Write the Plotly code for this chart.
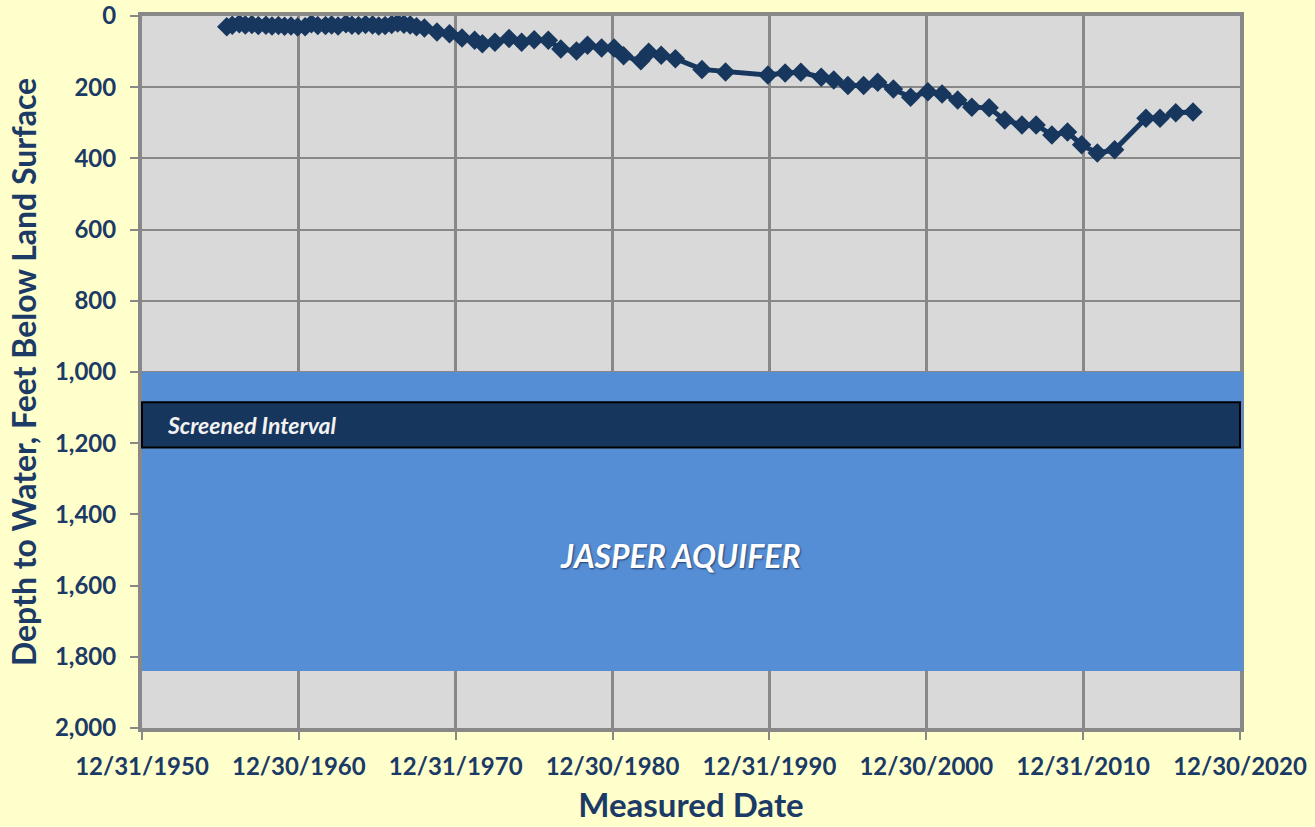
import plotly.graph_objects as go

# ---- data ----
dates = [
    "1956-05-26", "1956-10-01", "1957-03-15", "1957-08-01", "1958-01-01", "1958-06-01",
    "1958-11-25", "1959-04-15", "1959-09-12", "1960-02-01", "1960-07-01", "1960-12-01",
    "1961-05-26", "1961-10-20", "1962-03-15", "1962-09-12", "1963-02-01", "1963-07-01",
    "1964-01-01", "1964-05-20", "1964-10-20", "1965-04-01", "1965-09-12", "1966-02-01",
    "1966-07-01", "1966-12-01", "1967-04-20", "1967-09-12", "1968-02-05", "1968-07-01",
    "1969-01-01", "1969-10-20", "1970-08-08", "1971-05-26", "1972-03-15", "1972-09-12",
    "1973-07-01", "1974-05-26", "1975-03-15", "1976-01-01", "1976-11-25", "1977-09-12",
    "1978-09-12", "1979-05-26", "1980-04-20", "1981-02-05", "1981-09-12", "1982-10-20",
    "1983-04-20", "1984-02-05", "1985-01-01", "1986-09-12", "1988-03-15", "1990-11-25",
    "1992-01-01", "1993-01-01", "1994-04-20", "1995-02-05", "1996-01-01", "1997-01-01",
    "1997-11-25", "1998-11-25", "2000-01-01", "2001-02-05", "2002-01-01", "2003-01-01",
    "2003-11-25", "2005-01-01", "2006-01-01", "2007-02-05", "2008-01-01", "2009-01-01",
    "2010-01-01", "2010-11-25", "2011-11-25", "2013-01-01", "2015-01-01", "2015-11-25",
    "2016-11-25", "2018-01-01",
]
depth_ft = [
    30, 26, 22, 25, 24, 27,
    26, 28, 27, 29, 28, 31,
    30, 22, 27, 27, 25, 28,
    22, 26, 27, 24, 25, 28,
    27, 24, 20, 23, 25, 30,
    34, 45, 50, 62, 68, 78,
    74, 63, 74, 67, 68, 93,
    98, 82, 90, 90, 112, 126,
    102, 110, 120, 150, 157, 166,
    160, 158, 172, 180, 195, 195,
    186, 205, 228, 213, 219, 236,
    256, 258, 292, 306, 306, 334,
    326, 362, 385, 376, 287, 287,
    272, 270,
]

x_tick_dates = ["1950-12-31", "1960-12-30", "1970-12-31", "1980-12-30",
                "1990-12-31", "2000-12-30", "2010-12-31", "2020-12-30"]
x_tick_text = ["12/31/1950", "12/30/1960", "12/31/1970", "12/30/1980",
               "12/31/1990", "12/30/2000", "12/31/2010", "12/30/2020"]
y_ticks = [0, 200, 400, 600, 800, 1000, 1200, 1400, 1600, 1800, 2000]

aquifer_top, aquifer_bottom = 1000, 1840
screen_top, screen_bottom = 1085, 1212

NAVY = "#17375E"
TXT = "#1B3A66"
GRID = "#888888"

fig = go.Figure()
fig.add_trace(go.Scatter(
    x=dates, y=depth_ft, mode="lines+markers",
    line=dict(color=NAVY, width=5),
    marker=dict(symbol="diamond", size=15, color=NAVY),
    showlegend=False, hoverinfo="x+y",
))

# aquifer band
fig.add_shape(type="rect", xref="paper", yref="y", x0=0.0, x1=1.003,
              y0=aquifer_top, y1=aquifer_bottom,
              fillcolor="#558ED5", line=dict(width=0), layer="above")
# screened interval
fig.add_shape(type="rect", xref="paper", yref="y", x0=0.0, x1=1.0,
              y0=screen_top, y1=screen_bottom,
              fillcolor="#17365D", line=dict(color="#000000", width=2), layer="above")

fig.add_annotation(text="<b><i>Screened Interval</i></b>", xref="paper", yref="y",
                   x=0.021, y=(screen_top + screen_bottom) / 2, xanchor="left", yanchor="middle",
                   showarrow=False, font=dict(family="Lato", size=23, color="#F2F2F2"))
fig.add_annotation(text="<b><i>JASPER AQUIFER</i></b>", xref="paper", yref="y",
                   x=0.49, y=1515, xanchor="center", yanchor="middle",
                   showarrow=False,
                   font=dict(family="Lato", size=32, color="#FFFFFF", shadow="1px 1px 2px #1F3F6F"))

fig.update_layout(
    width=1315, height=827,
    paper_bgcolor="#FFFFCC", plot_bgcolor="#D9D9D9",
    margin=dict(l=142, r=75, t=16, b=99, autoexpand=False),
    font=dict(family="Lato", color=TXT),
)
fig.update_xaxes(
    type="date", range=["1950-12-31", "2020-12-30"],
    tickvals=x_tick_dates, ticktext=x_tick_text,
    tickfont=dict(family="Lato", size=24, color=TXT, weight="bold"),
    showgrid=True, gridcolor=GRID, gridwidth=3,
    showline=True, linecolor=GRID, linewidth=4, mirror=True,
    ticks="outside", ticklen=8, tickwidth=2, tickcolor=GRID,
    ticklabelstandoff=6, automargin=False, ticklabeloverflow="allow",
    title=dict(text="<b>Measured Date</b>", font=dict(family="Lato", size=33, color=TXT), standoff=16),
    zeroline=False,
)
fig.update_yaxes(
    range=[2000, 0], tickvals=y_ticks, tickformat=",d",
    tickfont=dict(family="Lato", size=24, color=TXT, weight="bold"),
    showgrid=True, gridcolor=GRID, gridwidth=2,
    showline=True, linecolor=GRID, linewidth=4, mirror=True,
    ticks="outside", ticklen=8, tickwidth=2, tickcolor=GRID,
    ticklabelstandoff=9, automargin=False, ticklabeloverflow="allow",
    title=dict(text="<b>Depth to Water, Feet Below Land Surface</b>",
               font=dict(family="Lato", size=32, color=TXT), standoff=10),
    zeroline=False,
)

# remove the browser's default 8px body margin so the figure fills the window exactly
fig.write_html("out.html",
               config={"displayModeBar": False},
               post_script="document.body.style.margin='0px';document.body.style.overflow='hidden';")
